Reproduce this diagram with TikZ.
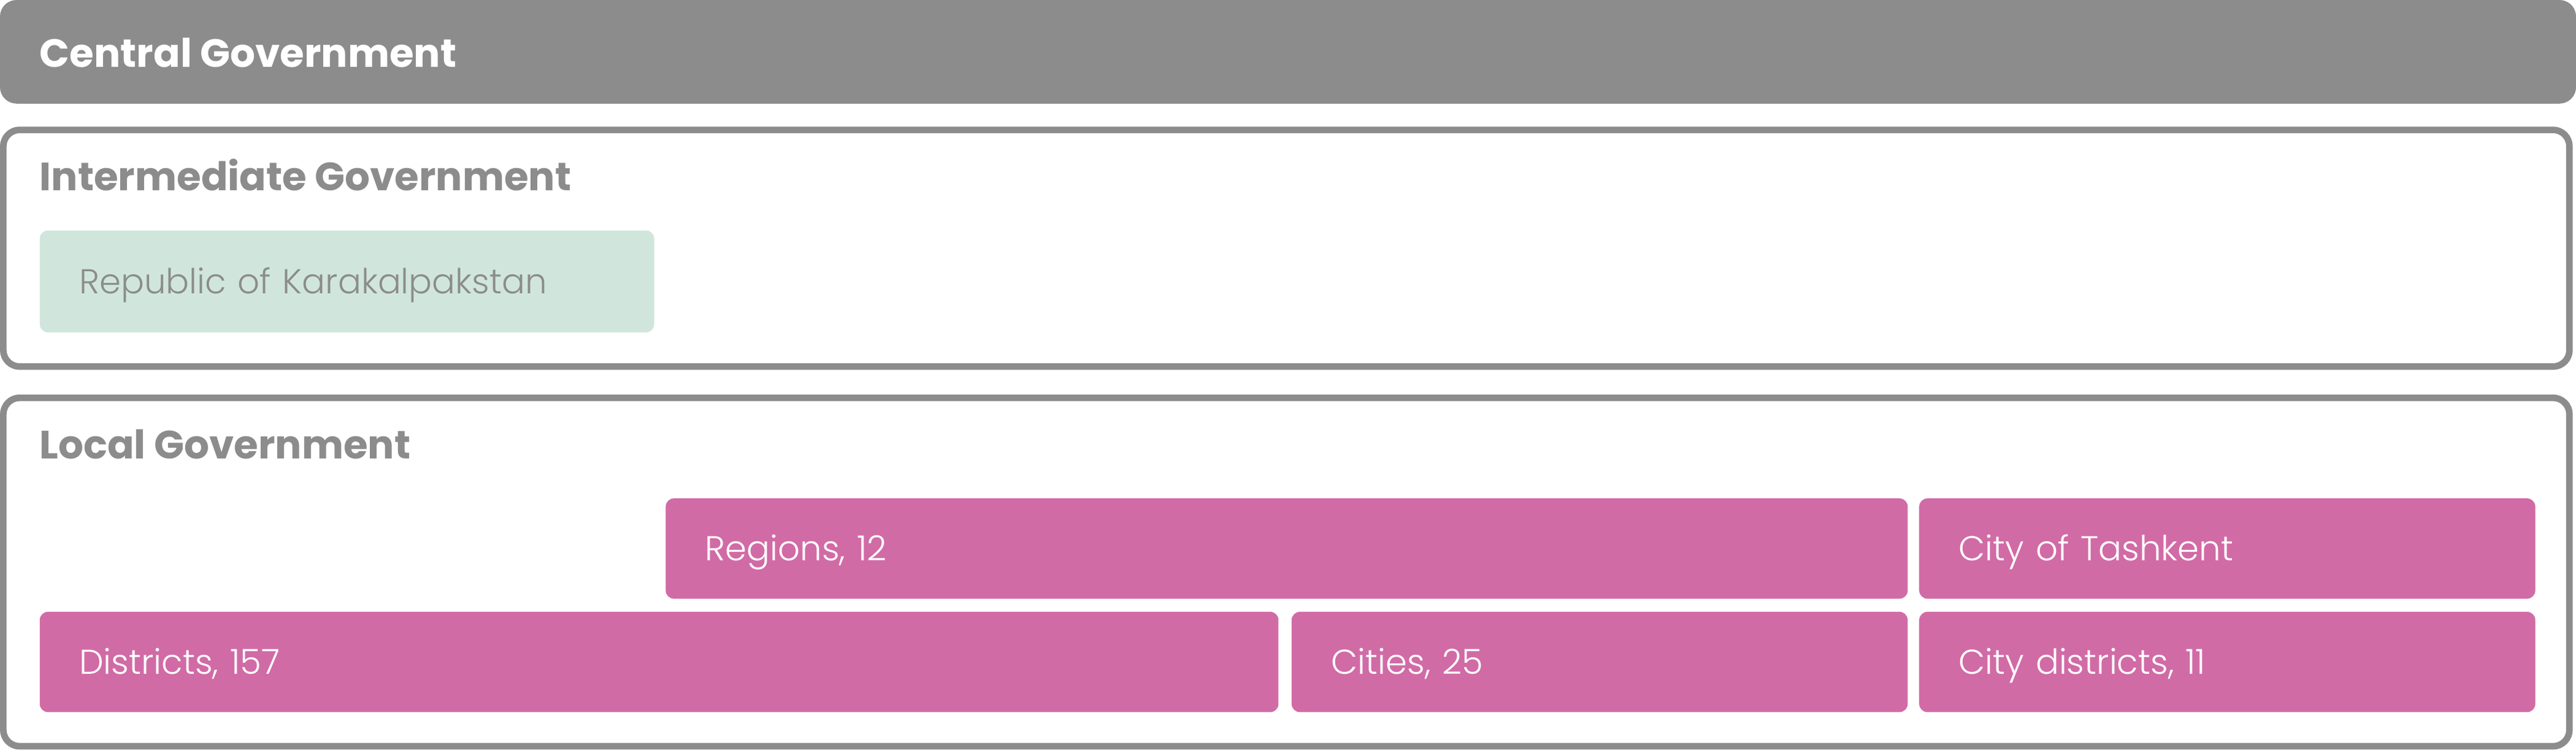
\documentclass[tikz,border=0pt]{standalone}
\usepackage{fontspec}
\setmainfont{Poppins}
\newfontfamily\plight{Poppins Light}
\definecolor{cgray}{HTML}{8C8C8C}
\definecolor{cpink}{HTML}{D16BA6}
\definecolor{cgreen}{HTML}{D0E6DC}
\tikzset{
  headbox/.style={fill=cgray, rounded corners=10pt},
  tierbox/.style={draw=cgray, line width=4pt, fill=white, rounded corners=10pt},
  tiertitle/.style={anchor=base west, inner sep=0pt, font=\fontsize{24}{28}\selectfont\bfseries},
  unitbox/.style={rectangle, rounded corners=5pt, anchor=north west, inner xsep=24pt, inner ysep=0pt,
    align=left, text height=14.7pt, text depth=0pt, font=\plight\fontsize{21}{25}\selectfont},
  pinkbox/.style={unitbox, fill=cpink, text=white},
  greenbox/.style={unitbox, fill=cgreen, text=cgray},
}
\newcommand{\ubox}[7]{% style, name, x, y, w, h, text
  \node[#1, text width=#5pt-48pt, minimum height=#6pt] (#2) at (#3,#4) {#7};}
\begin{document}
\begin{tikzpicture}[x=1pt, y=-1pt]
\useasboundingbox (0,0) rectangle (1568,458);
% tiers
\fill[headbox] (0,0) rectangle (1568,63);
\node[tiertitle, text=white] (central) at (24,41) {Central Government};
\draw[tierbox] (2,79) rectangle (1564,223);
\node[tiertitle, text=cgray] (interm) at (24,116) {Intermediate Government};
\draw[tierbox] (2,242) rectangle (1564,454);
\node[tiertitle, text=cgray] (local) at (24,279) {Local Government};
% units
\ubox{greenbox}{kara}{24}{140}{374}{62}{Republic of Karakalpakstan}
\ubox{pinkbox}{regions}{405}{303}{756}{61}{Regions, 12}
\ubox{pinkbox}{tashkent}{1168}{303}{375}{61}{City of Tashkent}
\ubox{pinkbox}{districts}{24}{372}{754}{61}{Districts, 157}
\ubox{pinkbox}{cities}{786}{372}{375}{61}{Cities, 25}
\ubox{pinkbox}{citydist}{1168}{372}{375}{61}{City districts, 11}
\end{tikzpicture}
\end{document}
